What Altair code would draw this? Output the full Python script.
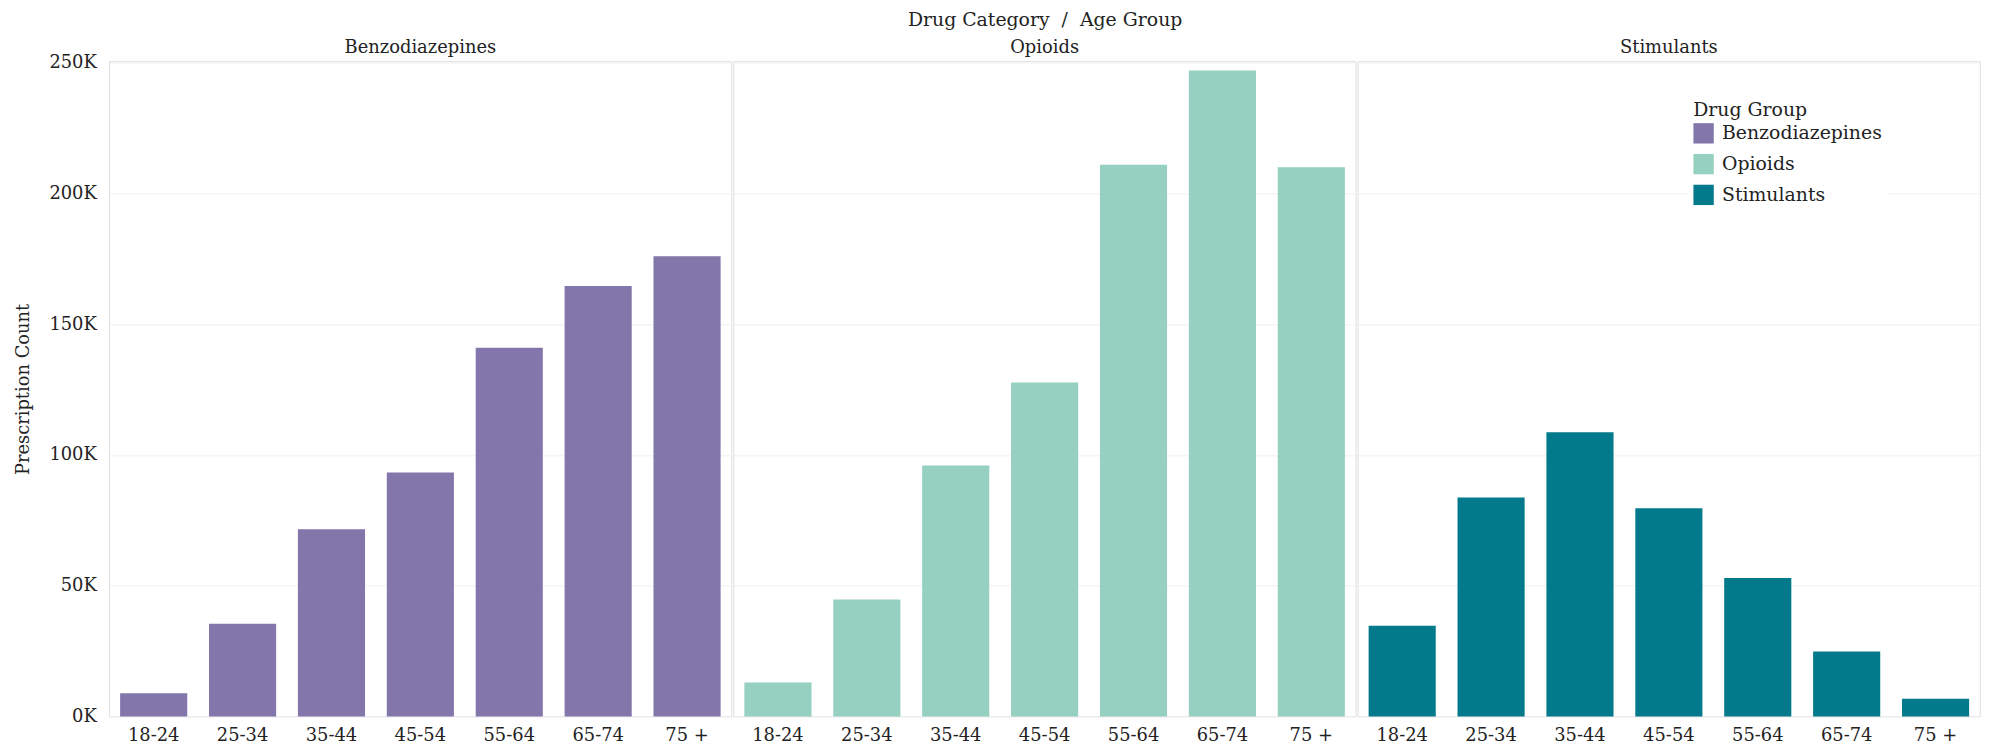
import altair as alt
import pandas as pd

ages = ["18-24", "25-34", "35-44", "45-54", "55-64", "65-74", "75 +"]
groups = ["Benzodiazepines", "Opioids", "Stimulants"]
benzo = [8900, 35400, 71600, 93300, 141000, 164600, 176000]
opioids = [13000, 44700, 96000, 127700, 211000, 247000, 210000]
stimulants = [34700, 83700, 108700, 79600, 52900, 24800, 6800]
colors = ["#8276AA", "#95D0C0", "#027A8B"]

rows = []
for g, vals in zip(groups, [benzo, opioids, stimulants]):
    for a, v in zip(ages, vals):
        rows.append({"Drug Group": g, "Age Group": a, "Count": v})
df = pd.DataFrame(rows)

FONT = "DejaVu Serif"
TXT = "#222222"

chart = alt.Chart(df).mark_bar().encode(
    x=alt.X("Age Group:N", sort=ages, title=None,
            scale=alt.Scale(paddingInner=0.245, paddingOuter=0.1225),
            axis=alt.Axis(labelAngle=0, ticks=False, domain=False,
                          labelFontSize=18, labelPadding=9)),
    y=alt.Y("Count:Q", title="Prescription Count",
            scale=alt.Scale(domain=[0, 250500], nice=False),
            axis=alt.Axis(values=[0, 50000, 100000, 150000, 200000, 250000],
                          labelExpr="format(datum.value/1000, 'd') + 'K'",
                          labelFontSize=18, titleFontSize=18, titleFontWeight="normal",
                          ticks=False, domain=False, labelPadding=12, titlePadding=17,
                          gridColor="#efefef")),
    color=alt.Color("Drug Group:N", sort=groups,
                    scale=alt.Scale(domain=groups, range=colors),
                    legend=alt.Legend(orient="none", legendX=1590, legendY=34,
                                      title="Drug Group", titleFontSize=19,
                                      titleFontWeight="normal", labelFontSize=19,
                                      labelLimit=400,
                                      symbolType="square", symbolSize=420,
                                      symbolStrokeWidth=0, rowPadding=10,
                                      fillColor="white", padding=6,
                                      titlePadding=3, labelOffset=8)),
).properties(width=627, height=660).facet(
    column=alt.Column("Drug Group:N", sort=groups,
                      title="Drug Category\u00a0\u00a0/\u00a0\u00a0Age Group",
                      header=alt.Header(labelFontSize=18, titleFontSize=19,
                                        titleFontWeight="normal", labelPadding=3,
                                        titlePadding=0, labelColor=TXT,
                                        titleColor=TXT)),
    spacing=0,
).properties(padding={"left": 6, "right": 0, "top": 0, "bottom": 0}).configure(
    font=FONT
).configure_facet(spacing=0).configure_view(
    stroke="#d6d6d6", strokeWidth=0.8
).configure_axis(labelColor=TXT, titleColor=TXT, labelFont=FONT,
                 titleFont=FONT).configure_header(
    labelFont=FONT, titleFont=FONT).configure_legend(labelFont=FONT, titleFont=FONT,
                                                   labelColor=TXT, titleColor=TXT)

chart.save("out.html", embed_options={"renderer": "svg", "actions": False})
